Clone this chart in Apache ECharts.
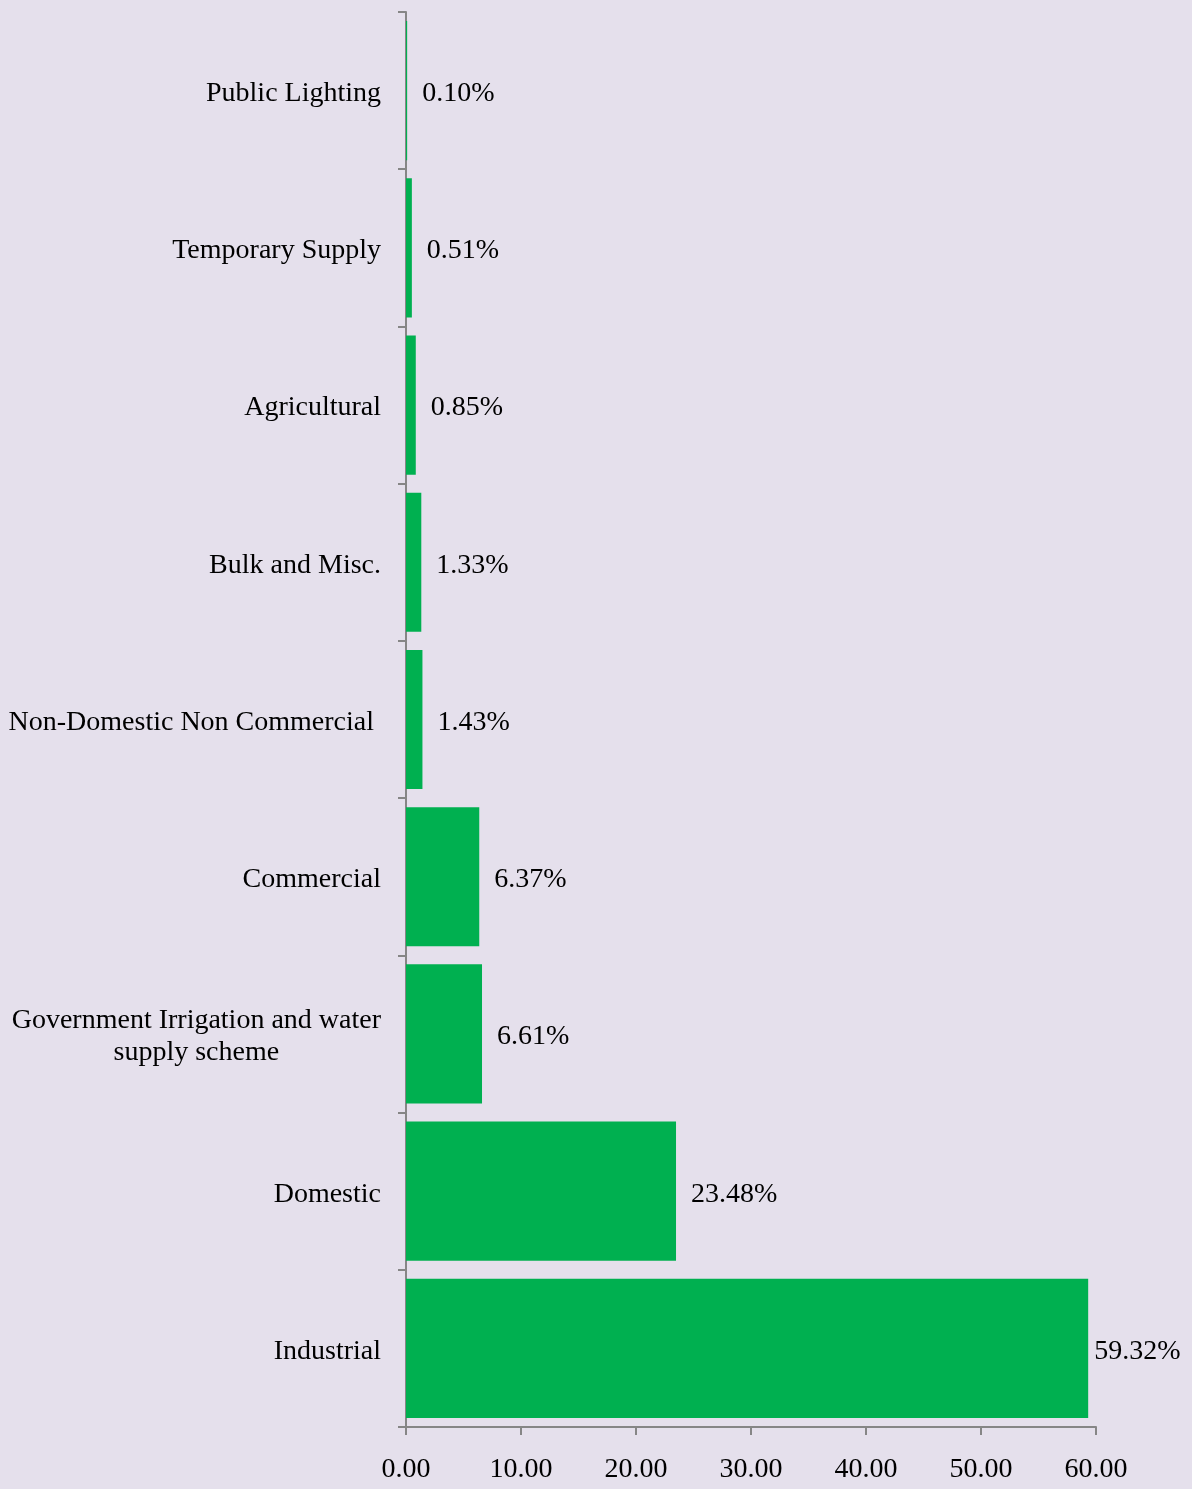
<!DOCTYPE html>
<html><head><meta charset="utf-8">
<script src="https://cdn.jsdelivr.net/npm/echarts@6/dist/echarts.min.js"></script>
<style>html,body{margin:0;padding:0;background:#E5E0EC;}#c{width:1192px;height:1489px;}</style>
</head><body><div id="c"></div>
<script>
var categories = ['Industrial','Domestic','Government Irrigation and water\nsupply scheme','Commercial','Non-Domestic Non Commercial ','Bulk and Misc.','Agricultural','Temporary Supply','Public Lighting'];
var values = [59.32,23.48,6.61,6.37,1.43,1.33,0.85,0.51,0.10];
var xTicks = {min:0,max:60,interval:10};
var FONT = 'Liberation Serif';
var chart = echarts.init(document.getElementById('c'));
var data = values.map(function(v,i){
  var d = {value:v};
  if (v > 55) d.label = {distance:6};
  return d;
});
chart.setOption({
  backgroundColor:'#E5E0EC',
  animation:false,
  grid:{left:406,right:96,top:12,bottom:62,containLabel:false},
  xAxis:{type:'value',min:xTicks.min,max:xTicks.max,interval:xTicks.interval,
    axisLine:{show:true,lineStyle:{color:'#868686',width:2}},
    axisTick:{show:true,length:8,lineStyle:{color:'#868686',width:2}},
    splitLine:{show:false},
    axisLabel:{color:'#000',fontFamily:FONT,fontSize:28,margin:29,formatter:function(v){return v.toFixed(2);}}
  },
  yAxis:{type:'category',data:categories,
    axisLine:{show:true,lineStyle:{color:'#868686',width:2}},
    axisTick:{show:true,length:8,lineStyle:{color:'#868686',width:2}},
    axisLabel:{color:'#000',fontFamily:FONT,fontSize:28,margin:25,padding:[6,0,0,0],
      formatter:function(v){return v.split('\n').map(function(s){return '{c|'+s+'}';}).join('\n');},
      rich:{c:{align:'center',fontFamily:FONT,fontSize:28,color:'#000',lineHeight:32}}}
  },
  series:[{type:'bar',data:data,barCategoryGap:'11.5%',
    itemStyle:{color:'#00B050'},
    label:{show:true,position:'right',distance:15,offset:[0,3],color:'#000',fontFamily:FONT,fontSize:28,
      formatter:function(p){return p.value.toFixed(2)+'%';}}
  }]
});
</script></body></html>
